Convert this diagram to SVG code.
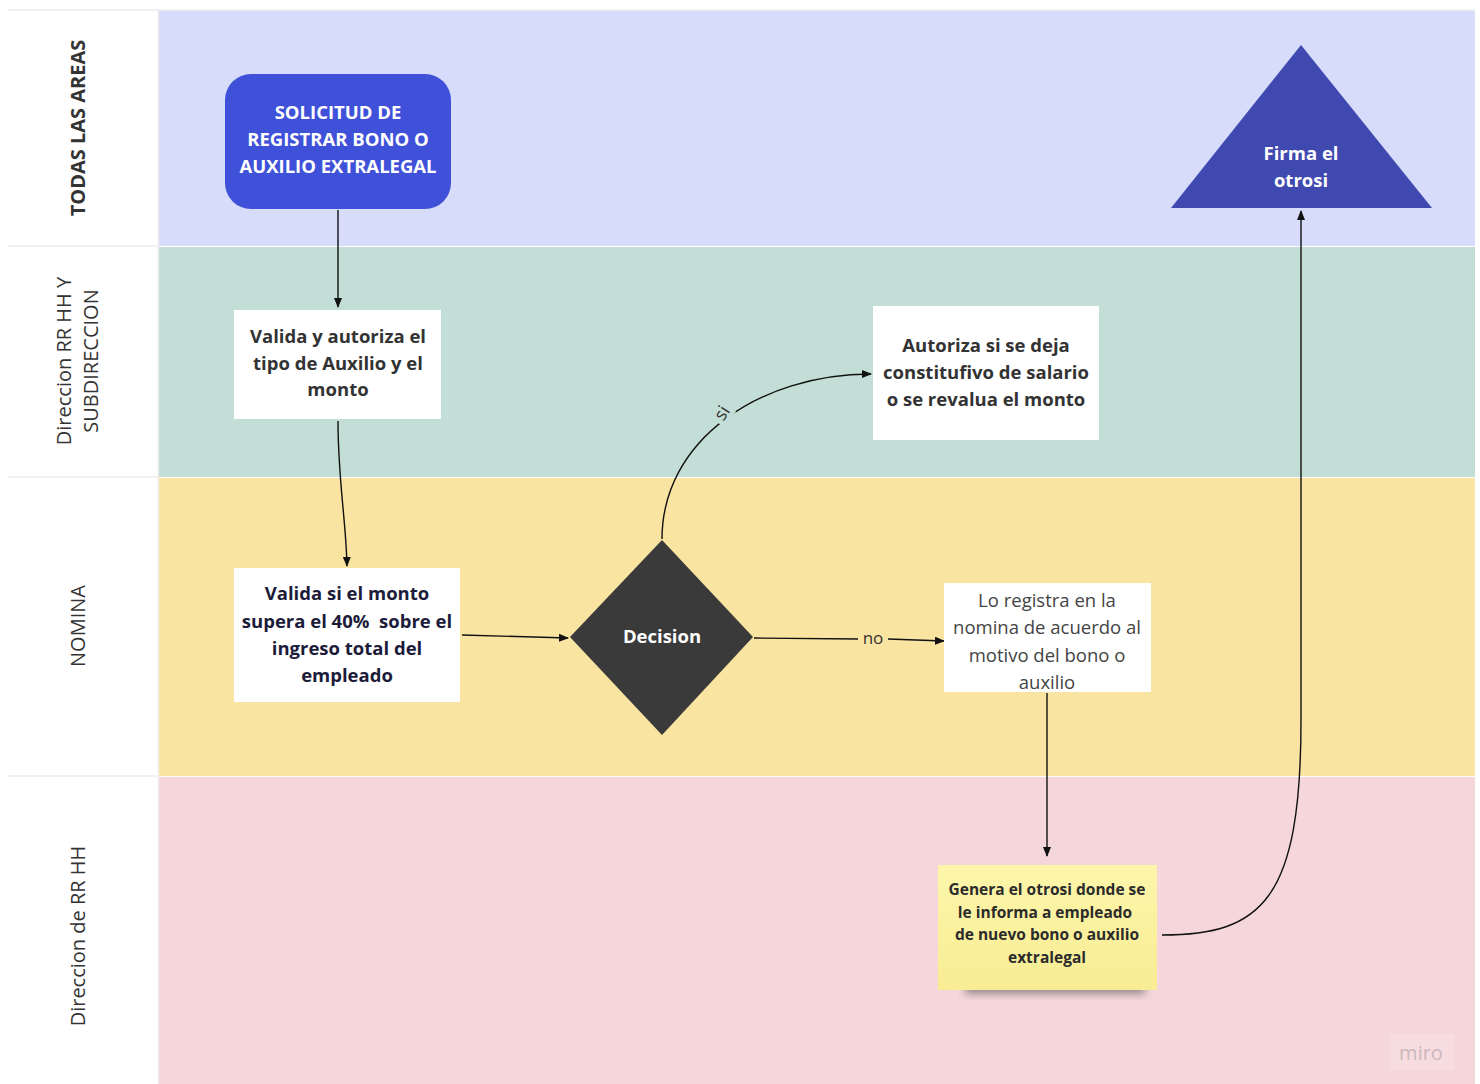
<svg xmlns="http://www.w3.org/2000/svg" width="1480" height="1084" viewBox="0 0 1480 1084">
<style>
.lbl{font-family:"Open Sans","Noto Sans",sans-serif;font-size:20px;fill:#333;text-anchor:middle}
.b{font-weight:700}
.t{font-family:"Open Sans","Noto Sans",sans-serif;font-size:18.5px;text-anchor:middle;font-weight:700}
.c{fill:none;stroke:#111;stroke-width:1.4}
</style>
<defs>
<marker id="ah" viewBox="0 0 10 10" refX="9" refY="5" markerWidth="10" markerHeight="10" markerUnits="userSpaceOnUse" orient="auto"><path d="M0,1 L10,5 L0,9 z" fill="#111"/></marker>
<linearGradient id="sg" x1="0" y1="0" x2="0" y2="1"><stop offset="0" stop-color="#fdf6aa"/><stop offset="1" stop-color="#f8ec94"/></linearGradient>
<filter id="sh" x="-20%" y="-20%" width="140%" height="160%"><feGaussianBlur stdDeviation="4"/></filter>
</defs>
<rect x="0" y="0" width="1480" height="1084" fill="#ffffff"/>
<g id="lanes">
<rect x="159" y="11" width="1316" height="235" fill="#d6dcfa"/>
<rect x="159" y="247" width="1316" height="230" fill="#c3ded6"/>
<rect x="159" y="478" width="1316" height="298" fill="#f9e4a1"/>
<rect x="159" y="777" width="1316" height="307" fill="#f5d7db"/>
<g stroke="#ececec" stroke-width="1.5">
<line x1="8" y1="10" x2="1475" y2="10"/>
<line x1="8" y1="246" x2="159" y2="246"/>
<line x1="8" y1="477" x2="159" y2="477"/>
<line x1="8" y1="776" x2="159" y2="776"/>
<line x1="158.5" y1="10" x2="158.5" y2="1084"/>
</g>
<text class="lbl b" transform="translate(85,128) rotate(-90)">TODAS LAS AREAS</text>
<text class="lbl" transform="translate(71,361) rotate(-90)">Direccion RR HH Y</text>
<text class="lbl" transform="translate(98,361) rotate(-90)">SUBDIRECCION</text>
<text class="lbl" transform="translate(85,626) rotate(-90)">NOMINA</text>
<text class="lbl" transform="translate(85,936) rotate(-90)">Direccion de RR HH</text>
</g>
<g id="connectors">
<path class="c" d="M338,210 L338,307" marker-end="url(#ah)"/>
<path class="c" d="M338,421 C338,480 346,520 347,566" marker-end="url(#ah)"/>
<path class="c" d="M462,635 L568,638" marker-end="url(#ah)"/>
<path class="c" d="M662,539 C662,440 760,374 871,374" marker-end="url(#ah)"/>
<path class="c" d="M754,638 L858,639 M888,639 L944,641" marker-end="url(#ah)"/>
<path class="c" d="M1047,693 L1047,856" marker-end="url(#ah)"/>
<path class="c" d="M1162,935 C1262,935 1301,900 1301,720 L1301,211" marker-end="url(#ah)"/>
<rect x="712" y="403" width="20" height="20" fill="#c3ded6" transform="rotate(-50 722 413)"/>
<text x="722" y="419" font-family="Open Sans,sans-serif" font-size="18" fill="#333" text-anchor="middle" transform="rotate(-58 722 413)">si</text>
<text x="873" y="644" font-family="Open Sans,sans-serif" font-size="17" fill="#333" text-anchor="middle">no</text>
</g>
<g id="n-start">
<rect x="225" y="74" width="226" height="135" rx="26" fill="#3f51d8"/>
<text class="t" fill="#ffffff"><tspan x="338" y="119">SOLICITUD DE</tspan><tspan x="338" y="146">REGISTRAR BONO O</tspan><tspan x="338" y="173">AUXILIO EXTRALEGAL</tspan></text>
</g>
<g id="n-valida">
<rect x="234" y="310" width="207" height="109" fill="#ffffff"/>
<text class="t" fill="#333333"><tspan x="338" y="343">Valida y autoriza el</tspan><tspan x="338" y="370">tipo de Auxilio y el</tspan><tspan x="338" y="396">monto</tspan></text>
</g>
<g id="n-supera">
<rect x="234" y="568" width="226" height="134" fill="#ffffff"/>
<text class="t" fill="#1c1c3a" xml:space="preserve"><tspan x="347" y="600">Valida si el monto</tspan><tspan x="347" y="628">supera el 40%  sobre el</tspan><tspan x="347" y="655">ingreso total del</tspan><tspan x="347" y="682">empleado</tspan></text>
</g>
<g id="n-decision">
<polygon points="662,540 753,637 662,735 570,637" fill="#3a3a3a"/>
<text class="t" fill="#ffffff" x="662" y="643">Decision</text>
</g>
<g id="n-autoriza">
<rect x="873" y="306" width="226" height="134" fill="#ffffff"/>
<text class="t" fill="#333333"><tspan x="986" y="352">Autoriza si se deja</tspan><tspan x="986" y="379">constitufivo de salario</tspan><tspan x="986" y="406">o se revalua el monto</tspan></text>
</g>
<g id="n-registra">
<clipPath id="cp5"><rect x="944" y="583" width="207" height="107"/></clipPath>
<rect x="944" y="583" width="207" height="109" fill="#ffffff"/>
<text clip-path="url(#cp5)" font-family="Open Sans,sans-serif" font-size="18.5" fill="#444" text-anchor="middle"><tspan x="1047" y="607">Lo registra en la</tspan><tspan x="1047" y="634">nomina de acuerdo al</tspan><tspan x="1047" y="662">motivo del bono o</tspan><tspan x="1047" y="689">auxilio</tspan></text>
</g>
<g id="n-genera">
<rect x="965" y="980" width="180" height="14" fill="#3a3a3a" opacity="0.5" filter="url(#sh)"/>
<rect x="938" y="865" width="219" height="125" fill="url(#sg)"/>
<text font-family="Open Sans,sans-serif" font-size="15.5" font-weight="700" fill="#2b2b2b" text-anchor="middle"><tspan x="1047" y="895">Genera el otrosi donde se</tspan><tspan x="1045" y="918">le informa a empleado</tspan><tspan x="1047" y="940">de nuevo bono o auxilio</tspan><tspan x="1047" y="963">extralegal</tspan></text>
</g>
<g id="n-firma">
<polygon points="1301,45 1432,208 1171,208" fill="#4049b0"/>
<text class="t" fill="#ffffff"><tspan x="1301" y="160">Firma el</tspan><tspan x="1301" y="187">otrosi</tspan></text>
</g>
<g id="watermark">
<rect x="1390" y="1034" width="64" height="36" fill="#f7dde0"/>
<text x="1421" y="1060" font-family="Open Sans,sans-serif" font-size="20" fill="#c9b9bd" text-anchor="middle">miro</text>
</g>
</svg>
